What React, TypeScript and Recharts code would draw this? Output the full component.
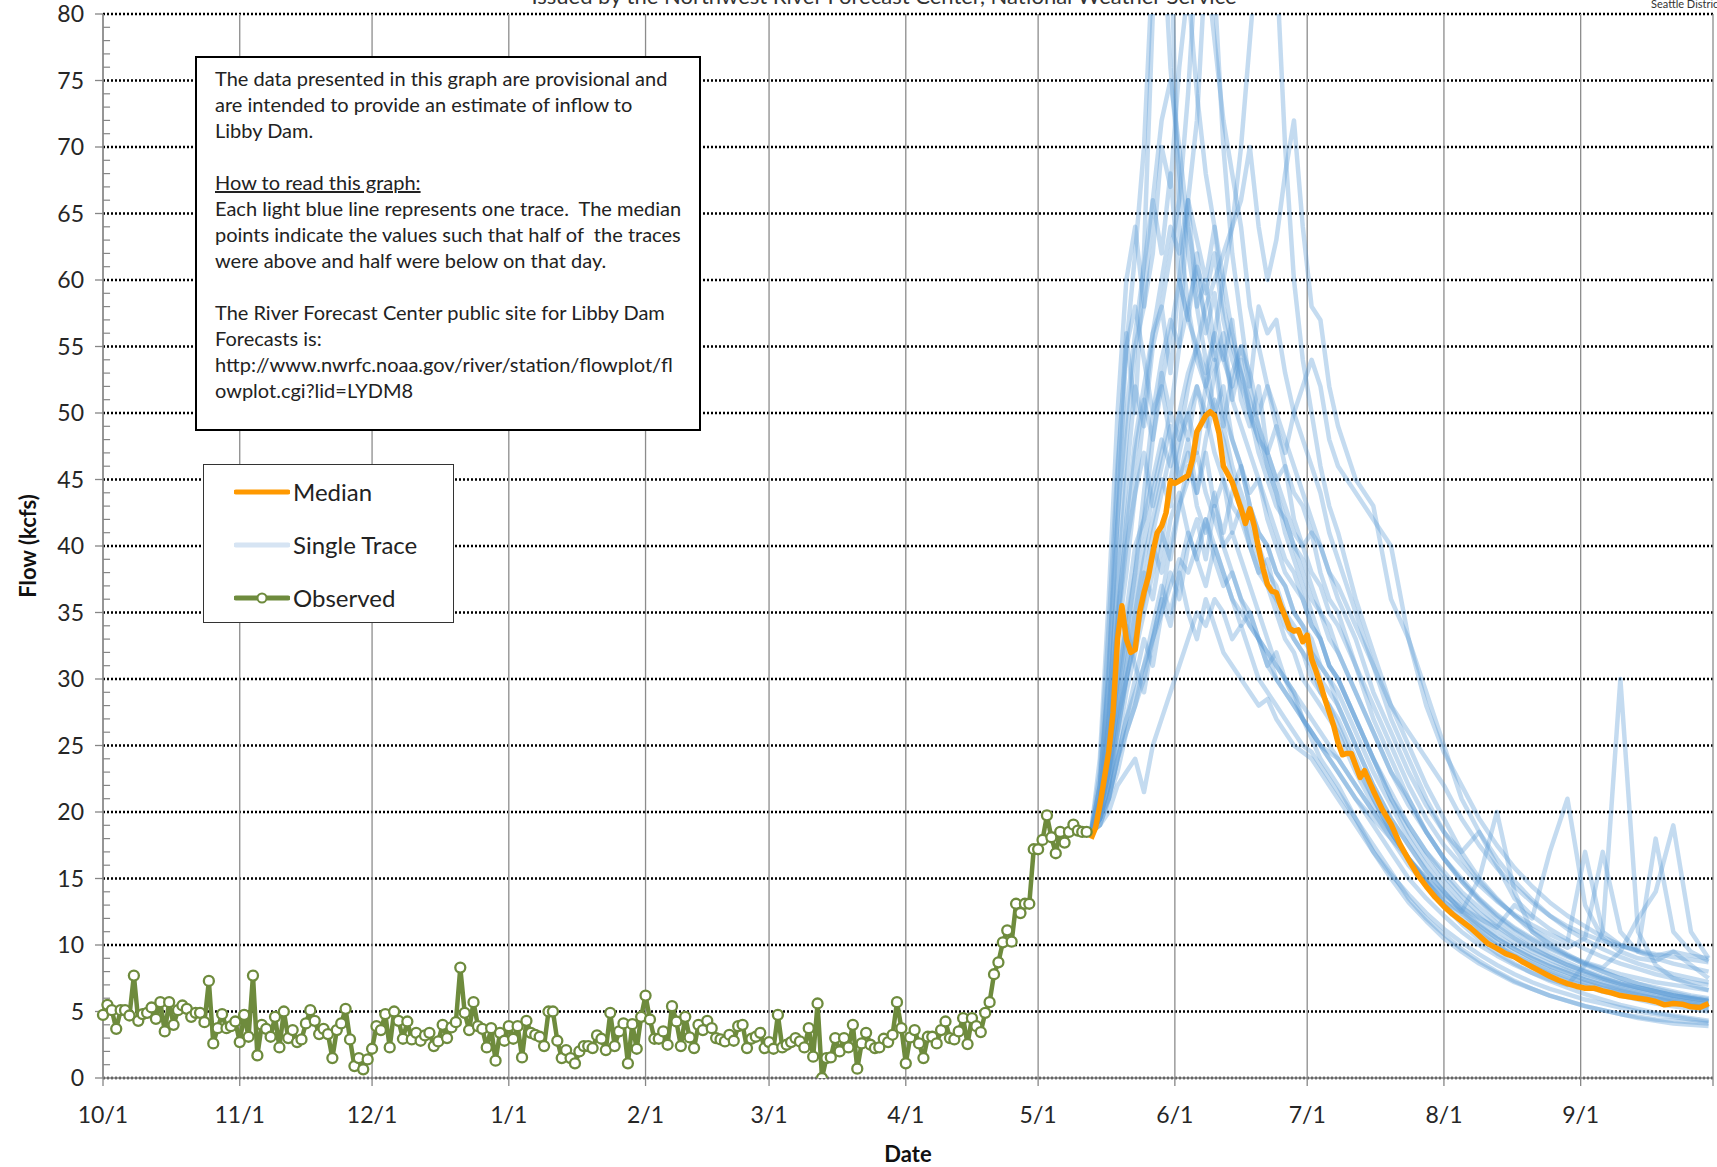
import React from 'react';
import { LineChart, Line, XAxis, YAxis, CartesianGrid, ReferenceLine } from 'recharts';

// x axis: days since 10/1 of the water year
const monthTicks = [0, 31, 61, 92, 123, 151, 182, 212, 243, 273, 304, 335, 365];
const monthLabels = ['10/1', '11/1', '12/1', '1/1', '2/1', '3/1', '4/1', '5/1', '6/1', '7/1', '8/1', '9/1', ''];
const flowTicks = [0, 5, 10, 15, 20, 25, 30, 35, 40, 45, 50, 55, 60, 65, 70, 75, 80];

// observed daily inflow (kcfs), index = day
const observedFlow = [
  4.75, 5.5, 5.1, 3.7, 5.1, 5.1, 4.7, 7.7, 4.3, 4.8, 4.9, 5.3, 4.45, 5.7, 3.5, 5.7, 4.0, 5.1, 5.45, 5.2,
  4.6, 4.9, 4.9, 4.2, 7.3, 2.6, 3.75, 4.8, 3.75, 3.9, 4.25, 2.7, 4.75, 3.1, 7.7, 1.7, 4.0, 3.7, 3.1, 4.6,
  2.3, 5.0, 3.0, 3.6, 2.7, 2.9, 4.1, 5.1, 4.3, 3.3, 3.7, 3.3, 1.5, 3.6, 4.1, 5.2, 2.9, 0.9, 1.5, 0.65,
  1.4, 2.2, 3.9, 3.6, 4.8, 2.3, 5.0, 4.3, 2.95, 4.25, 2.9, 3.4, 2.8, 3.2, 3.4, 2.4, 2.75, 4.0, 3.0, 3.8,
  4.2, 8.3, 4.9, 3.6, 5.7, 3.9, 3.7, 2.3, 3.75, 1.3, 3.4, 2.8, 3.9, 2.95, 3.9, 1.55, 4.3, 3.4, 3.25, 3.1,
  2.4, 5.0, 5.0, 2.8, 1.5, 2.1, 1.5, 1.1, 2.0, 2.4, 2.4, 2.25, 3.2, 2.95, 2.1, 4.9, 2.4, 3.5, 4.1, 1.1,
  4.05, 2.2, 4.6, 6.2, 4.4, 2.95, 2.95, 3.5, 2.5, 5.4, 4.25, 2.4, 4.6, 3.05, 2.25, 4.0, 3.6, 4.3, 3.75, 3.0,
  2.9, 2.75, 3.25, 2.8, 3.9, 4.0, 2.25, 2.95, 3.1, 3.4, 2.25, 2.7, 2.2, 4.75, 2.3, 2.5, 2.7, 3.0, 2.75, 2.3,
  3.75, 1.6, 5.6, 0.0, 1.5, 1.55, 3.0, 2.0, 3.0, 2.3, 4.0, 0.7, 2.6, 3.4, 2.5, 2.25, 2.3, 2.95, 2.7, 3.25,
  5.7, 3.75, 1.1, 3.05, 3.6, 2.6, 1.5, 3.1, 3.1, 2.6, 3.6, 4.25, 3.0, 2.9, 3.5, 4.5, 2.55, 4.5, 3.9, 3.45,
  4.9, 5.7, 7.8, 8.7, 10.2, 11.1, 10.25, 13.1, 12.4, 13.1, 13.1, 17.2, 17.2, 17.9, 19.75, 18.1, 16.9, 18.5, 17.7, 18.5,
  19.05, 18.6, 18.5, 18.5,
];

// median of the forecast traces
const medianDays = [
  224, 225, 226, 227, 228, 229, 230, 231, 232, 233, 234, 235, 236, 237, 238, 239, 240, 241, 242, 243,
  244, 245, 246, 247, 248, 249, 250, 251, 252, 253, 254, 255, 256, 257, 258, 259, 260, 261, 262, 263,
  264, 265, 266, 267, 268, 269, 270, 271, 272, 273, 274, 275, 276, 277, 278, 279, 280, 281, 282, 283,
  284, 285, 286, 288, 290, 292, 294, 296, 298, 300, 302, 304, 306, 308, 310, 312, 314, 316, 318, 320,
  322, 324, 326, 328, 330, 332, 334, 336, 338, 340, 342, 344, 346, 348, 350, 352, 354, 356, 358, 360,
  362, 364,
];
const medianFlow = [
  18.0, 18.8, 20.5, 22.5, 24.5, 27.5, 33, 35.5, 33, 32, 32.2, 35, 36.5, 37.7, 39.5, 41, 41.5, 42.5, 44.9, 44.7,
  44.9, 45.1, 45.3, 46.5, 48.6, 49.2, 49.8, 50.1, 49.8, 48.5, 46, 45.4, 44.8, 43.8, 42.8, 41.7, 42.8, 41.5, 39.8, 38.3,
  37.1, 36.6, 36.5, 35.5, 34.7, 33.8, 33.6, 33.7, 32.8, 33.3, 31.5, 30.6, 29.6, 28.5, 27.5, 26.5, 25.2, 24.3, 24.4, 24.4,
  23.5, 22.6, 23.1, 21.6, 20.2, 19.1, 17.6, 16.4, 15.3, 14.4, 13.6, 12.9, 12.3, 11.8, 11.3, 10.7, 10.1, 9.75, 9.35, 9.1,
  8.7, 8.35, 8.0, 7.65, 7.35, 7.1, 6.9, 6.75, 6.75, 6.55, 6.4, 6.2, 6.1, 6.0, 5.9, 5.75, 5.5, 5.6, 5.55, 5.35,
  5.3, 5.6,
];

// individual ensemble traces
const traceDays = [
  224, 226, 228, 230, 232, 234, 236, 238, 240, 242, 244, 246, 248, 250, 252, 254, 256, 258, 260, 262,
  264, 266, 268, 270, 272, 274, 276, 278, 280, 284, 288, 292, 296, 300, 304, 308, 312, 316, 320, 324,
  328, 332, 336, 340, 344, 348, 352, 356, 360, 364,
];
const trace01 = [18.5, 22, 30, 42, 55, 62, 70, 84, 88, 76, 68, 62, 58, 60, 55, 50, 48, 46, 43, 41, 40, 38, 37, 35, 34, 32, 31, 30, 28, 25, 22, 19.5, 17.5, 15.5, 14, 12.5, 11.2, 10.2, 9.4, 8.7, 8.1, 7.6, 7.2, 6.8, 6.5, 6.2, 6.0, 5.7, 5.5, 5.3];
const trace02 = [18.5, 20, 25, 33, 38, 44, 50, 56, 58, 62, 66, 74, 85, 90, 82, 70, 62, 57, 52, 49, 46, 44, 41, 39, 37, 35, 33, 31, 30, 27, 24, 21, 19, 17, 15.5, 14, 12.8, 11.6, 10.6, 9.8, 9.1, 8.5, 8.0, 7.5, 7.1, 6.8, 6.5, 6.2, 6.0, 5.8];
const trace03 = [18.5, 19.5, 22, 26, 30, 34, 38, 36, 40, 45, 48, 50, 47, 52, 56, 60, 64, 70, 78, 86, 92, 84, 70, 60, 54, 50, 46, 43, 41, 36, 32, 28, 25, 22, 19.5, 17, 15, 13.5, 12.2, 11, 10.1, 9.3, 8.6, 8.0, 7.5, 7.1, 6.7, 6.4, 6.1, 5.9];
const trace04 = [18.5, 20, 23, 28, 32, 36, 40, 44, 47, 50, 48, 52, 55, 58, 60, 62, 64, 66, 70, 64, 60, 63, 68, 72, 64, 58, 57, 52, 49, 45, 43, 36, 33, 29, 25, 21, 18.5, 16.5, 14.8, 13.4, 12.2, 11.2, 10.4, 9.7, 9.1, 8.6, 8.2, 7.8, 7.5, 7.2];
const trace05 = [18.5, 19, 20, 22, 23, 24, 21.5, 25, 27, 29, 31, 33, 35, 34, 36, 35, 33, 34, 32, 30, 29, 28, 27, 26, 25, 24.5, 23.5, 22.5, 21.5, 19.5, 17.5, 15.5, 13.5, 12, 10.8, 9.7, 8.8, 8.0, 7.3, 6.7, 6.2, 5.8, 5.4, 5.1, 4.8, 4.5, 4.3, 4.1, 4.0, 3.9];
const trace06 = [18.5, 21, 27, 38, 48, 55, 58, 62, 70, 67, 76, 82, 74, 68, 64, 60, 56, 53, 50, 48, 46, 44, 42, 40, 38, 36, 35, 33, 32, 29, 26, 23, 21, 18.5, 16.5, 14.8, 13.3, 12.0, 11.0, 10.1, 9.3, 8.7, 8.1, 7.6, 7.2, 6.8, 6.5, 6.2, 6.0, 5.8];
const trace07 = [18.5, 20, 24, 30, 35, 40, 42, 45, 48, 46, 50, 48, 52, 50, 47, 45, 43, 42, 40, 38, 37, 36, 34, 33, 32, 31, 29, 28, 27, 24, 21, 18.5, 16.5, 14.8, 13.2, 12.5, 15, 20, 14, 11, 10, 9.2, 8.5, 8, 7.5, 7.1, 6.8, 6.5, 6.2, 6.0];
const trace08 = [18.5, 19.5, 22, 27, 30, 33, 36, 40, 38, 42, 44, 41, 39, 42, 40, 38, 36, 35, 34, 33, 31, 30, 29, 28, 27, 26, 25, 24, 23, 21, 19, 17, 15, 13.5, 12.2, 11, 10, 9.2, 8.5, 7.9, 7.4, 7.0, 8.5, 11, 30, 11, 8.5, 7.5, 7.0, 6.6];
const trace09 = [18.5, 20, 24, 29, 34, 38, 44, 50, 54, 57, 55, 58, 61, 59, 62, 57, 54, 52, 50, 47, 45, 43, 42, 40, 39, 37, 35, 34, 32, 29, 26, 23, 20.5, 18.5, 16.5, 15, 13.5, 12.3, 11.3, 10.5, 9.8, 9.2, 8.7, 8.3, 9.5, 12, 14, 19, 11, 9];
const trace10 = [18.5, 23, 34, 46, 55, 58, 54, 50, 52, 48, 45, 47, 43, 41, 44, 40, 38, 36, 35, 33, 32, 31, 30, 29, 28, 27, 26, 25, 24, 22, 20, 18, 16, 14.5, 13, 11.8, 10.8, 9.9, 9.1, 8.4, 7.8, 7.3, 6.9, 6.5, 6.2, 5.9, 5.6, 5.4, 5.2, 5.0];
const trace11 = [18.5, 20, 23, 28, 33, 38, 42, 48, 52, 56, 60, 66, 72, 84, 78, 72, 68, 64, 58, 55, 52, 50, 48, 46, 44, 42, 40, 38, 36, 33, 29, 26, 23, 20.5, 18.5, 17, 18.5, 16, 13.5, 12.2, 11.2, 10.4, 9.7, 9.1, 8.6, 8.2, 7.8, 7.5, 7.2, 7.0];
const trace12 = [18.5, 19.5, 21, 24, 27, 29, 31, 33, 35, 37, 39, 38, 40, 42, 39, 37, 38, 36, 34, 33, 32, 30, 29, 28, 27, 26, 25, 24, 23, 21, 19.5, 18, 16.5, 15, 13.8, 12.8, 12, 11.3, 13, 12, 17, 21, 13, 10.5, 9.5, 9, 8.8, 9.5, 8.5, 7.5];
const trace13 = [18.5, 19, 21, 24, 26, 28, 30, 33, 36, 40, 43, 45, 47, 44, 42, 40, 41, 39, 37, 35, 33, 31, 30, 28.5, 27, 25.5, 24, 23, 22, 19.5, 17, 15, 13.2, 11.8, 10.5, 9.5, 8.6, 7.9, 7.2, 6.7, 6.2, 5.8, 5.4, 5.1, 4.8, 4.6, 4.4, 4.3, 4.2, 4.1];
const trace14 = [18.5, 21, 26, 34, 42, 48, 52, 56, 60, 64, 62, 66, 63, 60, 64, 58, 55, 53, 51, 49, 47, 45, 43, 41, 40, 38, 37, 35, 34, 31, 28, 25, 22, 19.5, 17.5, 16, 14.5, 13.3, 12.3, 11.5, 10.8, 10.2, 17, 11, 10, 9.6, 18, 11, 9.5, 8.8];
const trace15 = [18.5, 22, 30, 45, 56, 50, 62, 80, 92, 86, 64, 58, 54, 52, 50, 48, 45, 43, 41, 39, 37, 35, 33, 32, 30, 29, 28, 27, 26, 23, 20.5, 18.5, 16.5, 15, 13.6, 12.4, 11.4, 10.5, 9.7, 9.0, 8.4, 7.9, 7.4, 7.0, 6.6, 6.3, 6.0, 5.8, 5.6, 5.4];
const trace16 = [18.5, 19.5, 22, 26, 30, 33, 37, 41, 44, 47, 50, 53, 55, 53, 56, 54, 52, 55, 53, 50, 52, 49, 47, 50, 52, 54, 52, 48, 46, 44, 42, 40, 33, 28, 24.5, 22, 19.5, 17.5, 15.8, 14.4, 13.2, 12.2, 11.4, 10.6, 10, 9.5, 9.2, 9.5, 9.2, 9.0];
const trace17 = [18.5, 21, 28, 37, 45, 52, 49, 55, 58, 53, 60, 57, 62, 56, 59, 54, 57, 51, 49, 52, 47, 45, 46, 42, 40, 41, 38, 36, 35, 31, 27, 24, 21, 18.5, 16.5, 14.8, 13.4, 12.2, 11.2, 10.4, 9.7, 9.1, 8.6, 8.2, 7.8, 7.5, 7.2, 7.0, 6.8, 6.6];
const trace18 = [18.5, 20, 26, 35, 41, 47, 51, 48, 53, 50, 55, 66, 58, 54, 50, 52, 48, 46, 44, 45, 42, 40, 38, 37, 36, 34, 33, 31, 30, 27, 24, 21.5, 19, 17, 15.2, 13.7, 12.4, 11.4, 10.5, 9.7, 9.1, 8.5, 8.0, 7.5, 7.1, 6.8, 6.5, 6.2, 6.0, 5.8];
const trace19 = [18.5, 21, 27, 34, 40, 44, 47, 43, 46, 49, 45, 48, 44, 47, 43, 45, 41, 43, 40, 38, 39, 36, 35, 34, 33, 32, 30, 29, 28, 25, 22, 19.5, 17.5, 15.6, 14, 12.6, 11.5, 10.5, 9.7, 9.0, 8.4, 7.9, 7.4, 7.0, 6.7, 6.4, 6.1, 5.9, 5.7, 5.5];
const trace20 = [18.5, 22, 31, 42, 50, 56, 61, 66, 72, 75, 70, 64, 60, 57, 54, 56, 51, 49, 47, 45, 43, 41, 39, 38, 36, 34, 33, 31, 30, 27, 24, 21, 18.5, 16.5, 14.8, 13.3, 12.1, 11.1, 10.2, 9.5, 8.9, 8.3, 7.8, 7.4, 7.0, 6.7, 6.4, 6.1, 5.9, 5.7];
const trace21 = [18.5, 19.5, 21, 24, 27, 30, 33, 31, 35, 38, 36, 40, 42, 39, 43, 41, 44, 46, 43, 41, 40, 38, 37, 35, 34, 33, 31, 30, 29, 26, 23, 20.5, 18, 16, 14.3, 12.9, 11.7, 10.7, 9.9, 9.2, 8.6, 8.1, 7.6, 7.2, 6.8, 6.5, 6.2, 5.9, 5.7, 5.5];
const trace22 = [18.5, 24, 36, 50, 60, 64, 58, 66, 62, 68, 60, 57, 55, 52, 54, 49, 46, 44, 42, 40, 38, 37, 35, 33, 32, 30, 29, 28, 26.5, 23.5, 21, 18.5, 16.5, 14.8, 13.3, 12, 11, 10, 9.2, 8.6, 8, 7.5, 7.1, 6.7, 6.4, 6.1, 5.8, 5.6, 5.4, 5.2];
const trace23 = [18.5, 19.5, 22, 25, 29, 32, 35, 38, 41, 39, 43, 46, 44, 48, 51, 49, 53, 55, 52, 58, 56, 57, 53, 50, 48, 46, 44, 41, 39, 35, 31, 27, 24, 21, 18.5, 16.5, 14.8, 13.4, 12.2, 11.2, 10.4, 9.8, 10.5, 17, 11, 9.5, 9, 8.6, 8.3, 8.0];
const trace24 = [18.5, 19, 21, 23, 26, 28, 31, 34, 37, 35, 38, 41, 39, 37, 40, 38, 36, 34, 35, 33, 31, 32, 30, 29, 27, 26, 25, 24.5, 24, 22, 20, 18.5, 16.5, 14.7, 13, 11.6, 10.4, 9.4, 8.6, 7.9, 7.3, 6.8, 6.3, 5.9, 5.5, 5.2, 4.9, 4.7, 4.5, 4.3];
const trace25 = [18.5, 20, 23, 27, 31, 35, 39, 42, 45, 43, 47, 50, 52, 49, 53, 55, 51, 54, 50, 48, 47, 49, 46, 44, 43, 41, 40, 38, 37, 34, 31, 28, 26, 24, 22, 19.5, 17.5, 15.8, 14.4, 13.2, 12.2, 11.4, 10.8, 10.3, 9.9, 9.6, 9.3, 9.1, 8.9, 8.7];
const trace26 = [18.5, 20, 24, 30, 34, 31, 29, 33, 36, 34, 38, 35, 33, 36, 34, 32, 31, 30, 29, 28, 28.5, 27, 26, 25, 24.5, 24, 23, 22, 21, 19, 17, 15.3, 13.8, 12.4, 11.2, 10.2, 9.3, 8.5, 7.8, 7.2, 6.7, 6.3, 5.9, 5.6, 5.3, 5.0, 4.8, 4.6, 4.4, 4.2];

const traces = [
  trace01, trace02, trace03, trace04, trace05, trace06, trace07, trace08, trace09,
  trace10, trace11, trace12, trace13, trace14, trace15, trace16, trace17, trace18,
  trace19, trace20, trace21, trace22, trace23, trace24, trace25, trace26,
];

const observedData = observedFlow.map((v, i) => ({ day: i, flow: v }));
const medianData = medianDays.map((d, i) => ({ day: d, flow: medianFlow[i] }));
const traceData = traces.map((t) => traceDays.map((d, i) => ({ day: d, flow: t[i] })));

const minorTicks = [];
for (let v = 1; v < 80; v++) if (v % 5 !== 0) minorTicks.push(v);

const GREEN = '#6E8B3D';
const ORANGE = '#FF9900';
const BLUE = '#5B9BD5';
const AXIS = '#868686';
const FONT = 'Lato, "Open Sans", sans-serif';

const infoLines = [
  'The data presented in this graph are provisional and',
  'are intended to provide an estimate of inflow to',
  'Libby Dam.',
  '',
  'How to read this graph:',
  'Each light blue line represents one trace.  The median',
  'points indicate the values such that half of  the traces',
  'were above and half were below on that day.',
  '',
  'The River Forecast Center public site for Libby Dam',
  'Forecasts is:',
  'http://www.nwrfc.noaa.gov/river/station/flowplot/fl',
  'owplot.cgi?lid=LYDM8',
];

const LegendRow = ({ kind, label }) => (
  <div style={{ display: 'flex', alignItems: 'center', height: 53 }}>
    <svg width={56} height={14} style={{ marginLeft: 30, marginRight: 3 }}>
      <line
        x1={2}
        y1={7}
        x2={54}
        y2={7}
        stroke={kind === 'median' ? ORANGE : kind === 'trace' ? '#D6E4F3' : GREEN}
        strokeWidth={5}
        strokeLinecap="round"
      />
      {kind === 'observed' && <circle cx={28} cy={7} r={4.5} fill="#fff" stroke={GREEN} strokeWidth={2} />}
    </svg>
    <span>{label}</span>
  </div>
);

export default function App() {
  return (
    <div
      style={{
        position: 'absolute',
        left: 0,
        top: 0,
        width: 1717,
        height: 1167,
        overflow: 'hidden',
        background: '#fff',
        fontFamily: FONT,
        color: '#222',
      }}
    >
      <LineChart width={1717} height={1167} margin={{ top: 14, right: 4, bottom: 29, left: 43 }}>
        <CartesianGrid vertical={false} stroke="#000" strokeDasharray="2 2" strokeWidth={2.4} />
        <CartesianGrid horizontal={false} stroke="#8c8c8c" strokeWidth={1.3} />
        <XAxis
          type="number"
          dataKey="day"
          domain={[0, 365]}
          ticks={monthTicks}
          tickFormatter={(v) => monthLabels[monthTicks.indexOf(v)]}
          interval={0}
          height={60}
          tickSize={8}
          tickMargin={21}
          stroke={AXIS}
          strokeWidth={1.3}
          tick={{ fontSize: 23, fill: '#262626', fontFamily: FONT }}
        />
        <YAxis
          type="number"
          domain={[0, 80]}
          ticks={flowTicks}
          interval={0}
          allowDataOverflow
          width={60}
          tickSize={8}
          tickMargin={11}
          stroke={AXIS}
          strokeWidth={1.3}
          tick={{ fontSize: 23, fill: '#262626', fontFamily: FONT }}
        />
        {minorTicks.map((v) => (
          <ReferenceLine
            key={'m' + v}
            segment={[
              { x: 0, y: v },
              { x: 1.6, y: v },
            ]}
            stroke={AXIS}
            strokeWidth={1.2}
          />
        ))}
        {traceData.map((d, i) => (
          <Line
            key={'t' + i}
            data={d}
            dataKey="flow"
            type="linear"
            stroke={BLUE}
            strokeOpacity={0.36}
            strokeWidth={4.5}
            strokeLinejoin="round"
            dot={false}
            activeDot={false}
            isAnimationActive={false}
          />
        ))}
        <Line
          data={medianData}
          dataKey="flow"
          type="linear"
          stroke={ORANGE}
          strokeWidth={5.5}
          strokeLinejoin="round"
          dot={false}
          activeDot={false}
          isAnimationActive={false}
        />
        <Line
          data={observedData}
          dataKey="flow"
          type="linear"
          stroke={GREEN}
          strokeWidth={4.5}
          strokeLinejoin="round"
          dot={{ r: 5, fill: '#fff', stroke: GREEN, strokeWidth: 2.3 }}
          activeDot={false}
          isAnimationActive={false}
        />
      </LineChart>

      {/* cut-off heading at the top edge */}
      <div
        style={{
          position: 'absolute',
          left: 0,
          width: 1768,
          top: -17,
          lineHeight: '26px',
          fontSize: 22,
          textAlign: 'center',
          whiteSpace: 'nowrap',
          color: '#333',
        }}
      >
        Issued by the Northwest River Forecast Center, National Weather Service
      </div>
      <div
        style={{
          position: 'absolute',
          left: 1651,
          top: -3,
          lineHeight: '13px',
          fontSize: 11,
          whiteSpace: 'nowrap',
          color: '#333',
        }}
      >
        Seattle District
      </div>

      {/* axis titles */}
      <div
        style={{
          position: 'absolute',
          left: 27,
          top: 546,
          transform: 'translate(-50%, -50%) rotate(-90deg)',
          fontSize: 22,
          fontWeight: 700,
          whiteSpace: 'nowrap',
          color: '#111',
        }}
      >
        Flow (kcfs)
      </div>
      <div
        style={{
          position: 'absolute',
          left: 908,
          top: 1153,
          transform: 'translate(-50%, -50%)',
          fontSize: 22,
          fontWeight: 700,
          color: '#111',
        }}
      >
        Date
      </div>

      {/* note box */}
      <div
        style={{
          position: 'absolute',
          left: 195,
          top: 56,
          width: 506,
          height: 375,
          border: '2px solid #000',
          background: '#fff',
          padding: '7px 0 0 18px',
          boxSizing: 'border-box',
          fontSize: 20,
          lineHeight: '26px',
        }}
      >
        {infoLines.map((t, i) => (
          <div
            key={i}
            style={{
              height: 26,
              whiteSpace: 'pre',
              textDecoration: t === 'How to read this graph:' ? 'underline' : 'none',
            }}
          >
            {t}
          </div>
        ))}
      </div>

      {/* legend */}
      <div
        style={{
          position: 'absolute',
          left: 203,
          top: 464,
          width: 251,
          height: 159,
          border: '1.5px solid #333',
          background: '#fff',
          boxSizing: 'border-box',
          fontSize: 24,
        }}
      >
        <LegendRow kind="median" label="Median" />
        <LegendRow kind="trace" label="Single Trace" />
        <LegendRow kind="observed" label="Observed" />
      </div>
    </div>
  );
}
